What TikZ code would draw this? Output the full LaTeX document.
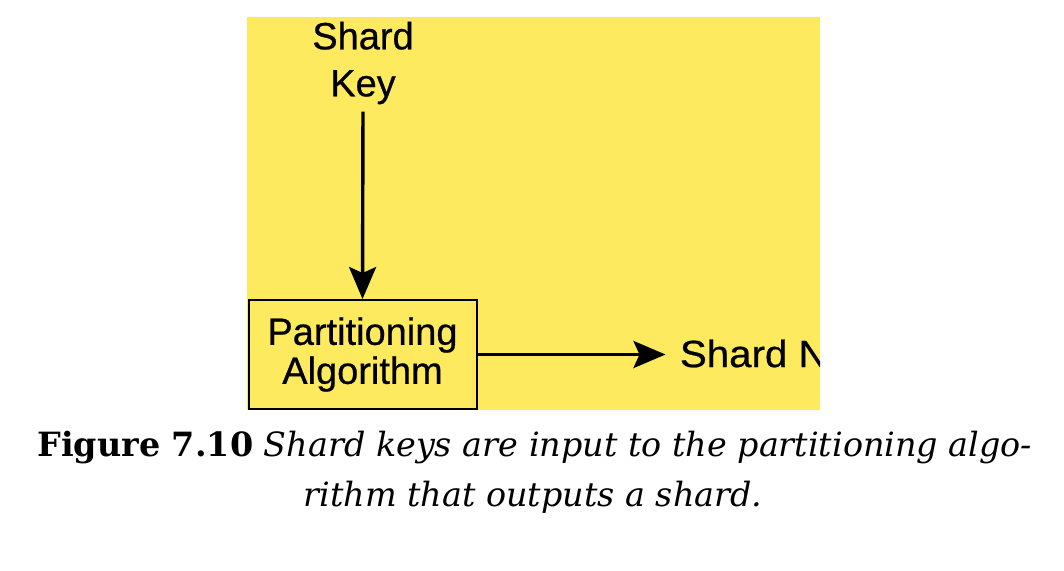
\documentclass[tikz,border=0pt]{standalone}
\usepackage{fontspec}
\setmainfont{DejaVu Serif}
\newfontfamily\diagfont[FakeBold=0.6]{Liberation Sans}
\newfontfamily\widefont[FakeBold=0.6, FakeStretch=1.06]{Liberation Sans}
\usetikzlibrary{%
  arrows.meta,%
  positioning% wg. " of "
}
\definecolor{shardyellow}{RGB}{253,234,94}

\tikzset{
  diagtext/.style={font=\diagfont\fontsize{19}{23.5}\selectfont, align=center, inner sep=0pt},
  algobox/.style={draw, line width=1pt, minimum width=114pt, minimum height=54.5pt, inner sep=0pt,
    font=\diagfont\fontsize{19}{19.5}\selectfont, align=center},
  flow/.style={line width=1.7pt, -{Stealth[length=16pt,width=13.5pt,inset=3pt]}},
  captext/.style={font=\fontsize{16.7}{25}\selectfont, inner sep=0pt}
}

\begin{document}
\begin{tikzpicture}[x=0.5pt,y=-0.5pt]
    \useasboundingbox (0,0) rectangle (1064,570);
    %yellow panel
    \fill[shardyellow] (247,17) rectangle (820,410);

    \node[algobox] (algo) at (362.5,354.5) {Partitioning\\Algorithm};
    \node[diagtext] (key) at (363,63) {Shard\\Key};
    \begin{scope}
      \clip (247,17) rectangle (820,410);
      \node[diagtext, font=\widefont\fontsize{19}{23.5}\selectfont, anchor=west] (shardn)
        [right=101pt of algo.east, yshift=0.5pt] {Shard N};
    \end{scope}

    \draw[flow, shorten <=3.5pt] (key.south) -- (algo.north);
    \draw[flow, shorten >=7pt] (algo.east) -- (algo.east -| shardn.west);

    %caption
    \node[captext, anchor=base west] (cap1) at (37,456)
      {\bfseries Figure 7.10\mdseries\itshape{} Shard keys are input to the partitioning algo-};
    \node[captext, anchor=base] (cap2) at (533,506)
      {\itshape rithm that outputs a shard.};
\end{tikzpicture}
\end{document}
